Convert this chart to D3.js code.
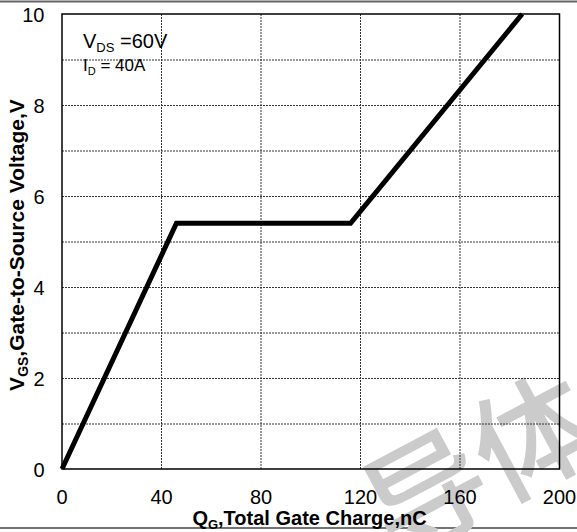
<!DOCTYPE html>
<html><head><meta charset="utf-8">
<script src="https://cdn.jsdelivr.net/npm/d3@7"></script>
<style>body{margin:0;background:#fff}svg{display:block}</style>
</head><body>
<svg id="c" width="577" height="532"></svg>
<script>
const qg = [0, 46, 116, 185];
const vgs = [0, 5.4, 5.4, 10];
const xTicks = [0, 40, 80, 120, 160, 200];
const yTicks = [0, 2, 4, 6, 8, 10];
const yGrid = [1,2,3,4,5,6,7,8,9];
const xGrid = [40,80,120,160];

const svg = d3.select("#c");
const W = 577, H = 532;
const L = 62, R = 559.5, T = 14, B = 469;
const x = d3.scaleLinear().domain([0,200]).range([L,R]);
const y = d3.scaleLinear().domain([0,10]).range([B,T]);
const font = "Liberation Sans, Arial, sans-serif";

// frame lines
svg.append("line").attr("x1",0).attr("x2",W).attr("y1",1.5).attr("y2",1.5).attr("stroke","#666").attr("stroke-width",2);
svg.append("line").attr("x1",0).attr("x2",W).attr("y1",528).attr("y2",528).attr("stroke","#444").attr("stroke-width",1.5);

// watermark
svg.append("text").attr("x",0).attr("y",0).attr("transform","translate(395,560) rotate(-28)")
  .attr("font-family","Noto Sans CJK SC").attr("font-weight",500).attr("font-size",120).attr("fill","#cbcbcb").text("导体");

// grid
const g = svg.append("g");
g.selectAll(".gy").data(yGrid).join("line").attr("x1",L).attr("x2",R)
  .attr("y1",d=>y(d)+0.5).attr("y2",d=>y(d)+0.5).attr("stroke","#333").attr("stroke-width",1).attr("stroke-dasharray","2,1");
g.selectAll(".gx").data(xGrid).join("line").attr("y1",T).attr("y2",B)
  .attr("x1",d=>x(d)).attr("x2",d=>x(d)).attr("stroke","#333").attr("stroke-width",1).attr("stroke-dasharray","2,1");

// border
svg.append("rect").attr("x",L).attr("y",T).attr("width",R-L).attr("height",B-T)
  .attr("fill","none").attr("stroke","#000").attr("stroke-width",1.5);

// curve
svg.append("path").datum(qg.map((q,i)=>[q,vgs[i]]))
  .attr("d", d3.line().x(d=>x(d[0])).y(d=>y(d[1])))
  .attr("fill","none").attr("stroke","#000").attr("stroke-width",5).attr("stroke-linejoin","miter");

// tick labels
svg.selectAll(".yt").data(yTicks).join("text").attr("x",44.5).attr("y",d=>y(d)+7.5)
  .attr("text-anchor","end").attr("font-family",font).attr("font-size",20).text(d=>d);
svg.selectAll(".xt").data(xTicks).join("text").attr("x",d=>x(d)).attr("y",504)
  .attr("text-anchor","middle").attr("font-family",font).attr("font-size",20).text(d=>d);

// axis titles
const xt = svg.append("text").attr("x",309.5).attr("y",525).attr("text-anchor","middle")
  .attr("font-family",font).attr("font-size",20).attr("font-weight","bold");
xt.append("tspan").text("Q");
xt.append("tspan").attr("font-size",13).attr("dy",4).text("G");
xt.append("tspan").attr("dy",-4).text(",Total Gate Charge,nC");

const yt = svg.append("text").attr("transform","translate(24,245) rotate(-90)").attr("text-anchor","middle")
  .attr("font-family",font).attr("font-size",21).attr("font-weight","bold");
yt.append("tspan").text("V");
yt.append("tspan").attr("font-size",14).attr("dy",4).text("GS");
yt.append("tspan").attr("dy",-4).text(",Gate-to-Source Voltage,V");

// annotation
const a1 = svg.append("text").attr("x",83).attr("y",48).attr("font-family",font).attr("font-size",20);
a1.append("tspan").text("V");
a1.append("tspan").attr("font-size",13).attr("dy",4).text("DS");
a1.append("tspan").attr("dy",-4).text(" =60V");
const a2 = svg.append("text").attr("x",83).attr("y",71).attr("font-family",font).attr("font-size",17);
a2.append("tspan").text("I");
a2.append("tspan").attr("font-size",11).attr("dy",4).text("D");
a2.append("tspan").attr("dy",-4).text(" = 40A");
</script>
</body></html>
